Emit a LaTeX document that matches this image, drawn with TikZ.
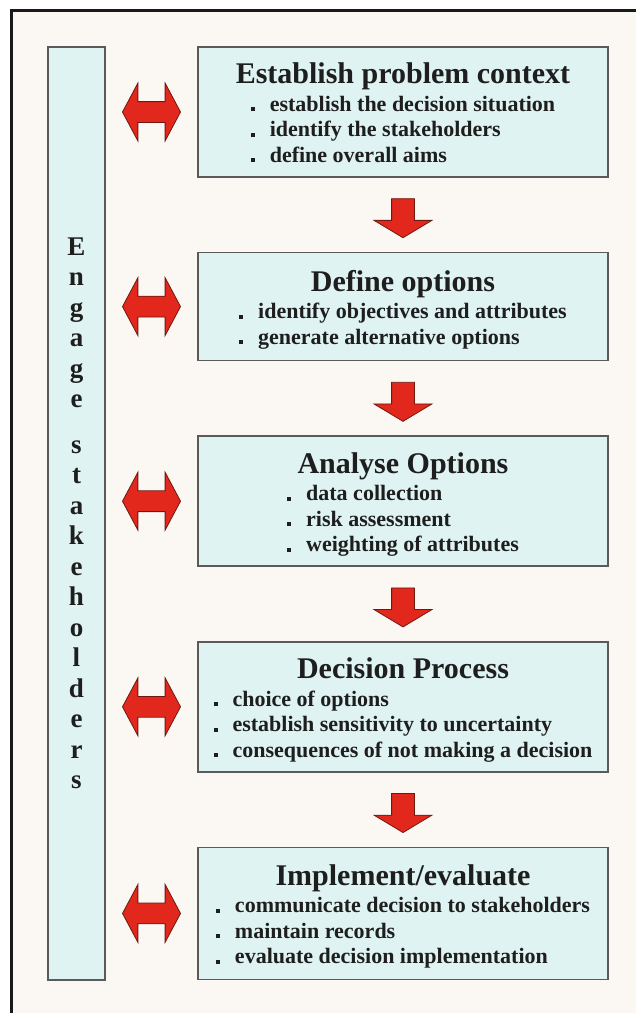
\documentclass[tikz,border=0pt]{standalone}
\usepackage{fontspec}
\setmainfont{Liberation Serif}
\usetikzlibrary{positioning,calc,shapes.arrows}

\definecolor{paper}{HTML}{FBF8F4}
\definecolor{boxfill}{HTML}{DFF3F2}
\definecolor{boxline}{HTML}{5A5A5A}
\definecolor{arrowred}{HTML}{E2281C}
\definecolor{arrowedge}{HTML}{6E1810}
\definecolor{ink}{HTML}{1E1E1E}

\newcommand{\stagetitle}[1]{{\fontsize{30}{32}\selectfont\rule{0pt}{30pt}#1}}
\newcommand{\bul}{\makebox[19pt][l]{\rule{4pt}{4pt}}}

\begin{document}
\begin{tikzpicture}[
  node distance=74pt,
  stage/.style={draw=boxline,fill=boxfill,line width=1.6pt,rectangle,align=center,
    minimum width=410pt,inner sep=0pt,text=ink,
    font={\fontsize{22}{25.5}\selectfont\bfseries}},
  engage/.style={draw=boxline,fill=boxfill,line width=1.6pt,rectangle,align=center,
    minimum width=57pt,minimum height=933pt,inner sep=0pt,text=ink,
    font={\fontsize{27}{30.5}\selectfont\bfseries}},
  down/.style={single arrow,rotate=-90,fill=arrowred,draw=arrowedge,line width=0.8pt,
    minimum height=39pt,inner xsep=0pt,inner ysep=11pt,
    single arrow head extend=17.5pt,single arrow tip angle=118},
  both/.style={double arrow,fill=arrowred,draw=arrowedge,line width=0.8pt,
    minimum height=58pt,inner xsep=0pt,inner ysep=10pt,
    double arrow head extend=18.5pt,double arrow tip angle=124}
]
  \useasboundingbox (0,0) rectangle (636pt,-1013pt);
  \fill[white] (0,0) rectangle (636pt,-1013pt);
  \fill[paper] (11pt,-10pt) rectangle (636pt,-1013pt);
  \draw[line width=3pt,black!90] (11pt,-1013pt) -- (11pt,-10pt) -- (636pt,-10pt);

  % the five stages
  \node[stage,minimum height=130pt] (b1) at (403pt,-112pt)
    {\stagetitle{Establish problem context}\\[2pt]
     \begin{tabular}[t]{@{}l@{}}\bul establish the decision situation\\
     \bul identify the stakeholders\\ \bul define overall aims\end{tabular}};
  \node[stage,minimum height=108pt,below=of b1] (b2)
    {\stagetitle{Define options}\\[2pt]
     \begin{tabular}[t]{@{}l@{}}\bul identify objectives and attributes\\
     \bul generate alternative options\end{tabular}};
  \node[stage,minimum height=130pt,below=of b2] (b3)
    {\stagetitle{Analyse Options}\\[2pt]
     \begin{tabular}[t]{@{}l@{}}\bul data collection\\
     \bul risk assessment\\ \bul weighting of attributes\end{tabular}};
  \node[stage,minimum height=130pt,below=of b3] (b4)
    {\stagetitle{Decision Process}\\[2pt]
     \begin{tabular}[t]{@{}l@{}}\bul choice of options\\
     \bul establish sensitivity to uncertainty\\
     \bul consequences of not making a decision\end{tabular}};
  \node[stage,minimum height=132pt,below=of b4] (b5)
    {\stagetitle{Implement/evaluate}\\[2pt]
     \begin{tabular}[t]{@{}l@{}}\bul communicate decision to stakeholders\\
     \bul maintain records\\ \bul evaluate decision implementation\end{tabular}};

  % stakeholder column
  \node[engage] (col) at (76.5pt,-513.5pt)
    {E\\n\\g\\a\\g\\e\\[15pt]s\\t\\a\\k\\e\\h\\o\\l\\d\\e\\r\\s};

  % arrows
  \foreach \i/\j in {1/2,2/3,3/4,4/5}
    \node[down] (a\i) at ($(b\i.south)!0.5!(b\j.north)$) {};
  \foreach \i in {1,...,5}
    \node[both] (e\i) at ($(col.east |- b\i)!0.5!(b\i.west)$) {};
\end{tikzpicture}
\end{document}
